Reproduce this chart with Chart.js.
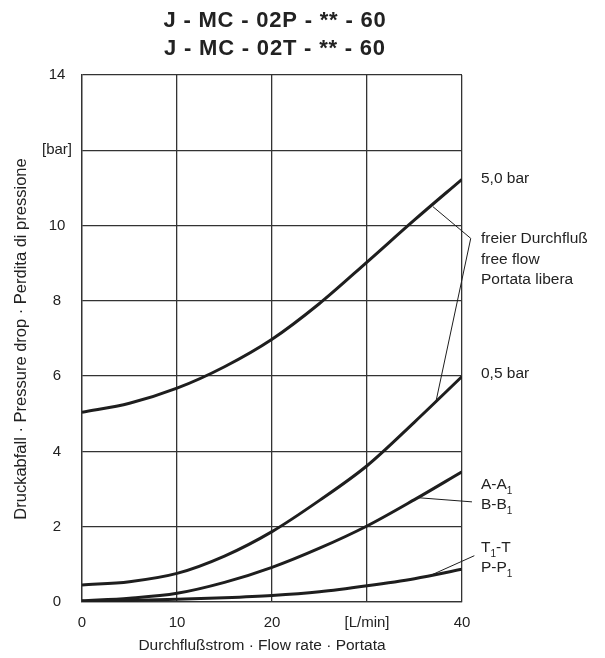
<!DOCTYPE html>
<html>
<head>
<meta charset="utf-8">
<script src="https://cdn.jsdelivr.net/npm/chart.js@4/dist/chart.umd.min.js"></script>
<style>
html,body{margin:0;padding:0;background:#fff;}
canvas{display:block;}
</style>
</head>
<body>
<canvas id="c" width="605" height="658"></canvas>
<script>
// ---- data ----
const flowRate = [0, 5, 10, 15, 20, 25, 30, 35, 40];           // L/min
const free50bar = [5.04, 5.28, 5.68, 6.25, 6.98, 7.93, 9.03, 10.15, 11.23];
const free05bar = [0.45, 0.54, 0.76, 1.22, 1.87, 2.70, 3.62, 4.78, 5.99];
const portAB    = [0.03, 0.10, 0.23, 0.52, 0.92, 1.43, 2.02, 2.72, 3.46];
const portTP    = [0.02, 0.04, 0.07, 0.11, 0.17, 0.27, 0.43, 0.62, 0.87];

const yTickLabels = {12: '[bar]'};
const xTickLabels = {30: '[L/min]'};

// leader lines (label -> curve), data units
const leaderFree50X = [40.92, 36.95];
const leaderFree50Y = [9.66, 10.50];
const leaderFree05X = [40.92, 37.23];
const leaderFree05Y = [9.66, 5.29];
const leaderABX = [41.05, 35.4];
const leaderABY = [2.66, 2.77];
const leaderTPX = [41.3, 36.8];
const leaderTPY = [1.23, 0.72];

const titleLines = ['J - MC - 02P - ** - 60', 'J - MC - 02T - ** - 60'];
const xTitle = 'Durchflußstrom · Flow rate · Portata';
const yTitle = 'Druckabfall · Pressure drop · Perdita di pressione';

const FONT = "'Liberation Sans', Arial, Helvetica, sans-serif";
const INK = '#1e1e1e';
const GRID = '#333333';

const pts = (xs, ys) => xs.map((x, i) => ({x, y: ys[i]}));

const curve = (label, ys) => ({
  label, data: pts(flowRate, ys),
  borderColor: INK, borderWidth: 3, pointRadius: 0,
  cubicInterpolationMode: 'monotone', fill: false
});
const leader = (label, xs, ys) => ({
  label, data: pts(xs, ys),
  borderColor: INK, borderWidth: 1, pointRadius: 0,
  tension: 0, fill: false, clip: false
});

// right-hand labels
const sideLabels = [
  {y: 179, parts: [['5,0 bar', false]]},
  {y: 239, parts: [['freier Durchfluß', false]]},
  {y: 260, parts: [['free flow', false]]},
  {y: 280, parts: [['Portata libera', false]]},
  {y: 374, parts: [['0,5 bar', false]]},
  {y: 485, parts: [['A-A', false], ['1', true]]},
  {y: 505, parts: [['B-B', false], ['1', true]]},
  {y: 548, parts: [['T', false], ['1', true], ['-T', false]]},
  {y: 568, parts: [['P-P', false], ['1', true]]}
];

const textPlugin = {
  id: 'texts',
  afterDraw(chart) {
    const ctx = chart.ctx;
    const ca = chart.chartArea;
    ctx.save();
    ctx.fillStyle = '#222';
    // title
    ctx.font = "bold 22px " + FONT;
    ctx.textAlign = 'center';
    ctx.textBaseline = 'middle';
    if ('letterSpacing' in ctx) ctx.letterSpacing = '0.8px';
    ctx.fillText(titleLines[0], 275, 21);
    ctx.fillText(titleLines[1], 275, 49);
    if ('letterSpacing' in ctx) ctx.letterSpacing = '0px';
    // x title
    ctx.font = "15.5px " + FONT;
    ctx.fillText(xTitle, 262, 646);
    // y title
    ctx.save();
    ctx.translate(21, 339);
    ctx.rotate(-Math.PI / 2);
    ctx.font = "16.5px " + FONT;
    ctx.fillText(yTitle, 0, 0);
    ctx.restore();
    // side labels
    ctx.textAlign = 'left';
    const x0 = ca.right + 19;
    sideLabels.forEach(l => {
      let x = x0;
      l.parts.forEach(([t, sub]) => {
        if (sub) {
          ctx.font = "10px " + FONT;
          ctx.fillText(t, x, l.y + 6);
        } else {
          ctx.font = "15.5px " + FONT;
          ctx.fillText(t, x, l.y);
        }
        x += ctx.measureText(t).width;
      });
    });
    ctx.restore();
  }
};

new Chart(document.getElementById('c'), {
  type: 'line',
  data: {
    datasets: [
      curve('5,0 bar', free50bar),
      curve('0,5 bar', free05bar),
      curve('A-A1 / B-B1', portAB),
      curve('T1-T / P-P1', portTP),
      leader('leader 5,0', leaderFree50X, leaderFree50Y),
      leader('leader 0,5', leaderFree05X, leaderFree05Y),
      leader('leader AB', leaderABX, leaderABY),
      leader('leader TP', leaderTPX, leaderTPY)
    ]
  },
  options: {
    responsive: false,
    devicePixelRatio: 1,
    animation: false,
    layout: {padding: {top: 75, right: 143, left: 0, bottom: 0}},
    plugins: {legend: {display: false}, tooltip: {enabled: false}, title: {display: false}},
    scales: {
      x: {
        type: 'linear', min: 0, max: 40,
        afterFit: s => { s.height = 56; },
        ticks: {
          stepSize: 10, padding: 12, color: '#222',
          font: {family: FONT, size: 15},
          callback: v => (xTickLabels[v] !== undefined ? xTickLabels[v] : v)
        },
        grid: {color: GRID, lineWidth: 1.3, drawTicks: false},
        border: {color: GRID, width: 1.3}
      },
      y: {
        type: 'linear', min: 0, max: 14,
        afterFit: s => { s.width = 82; },
        ticks: {
          stepSize: 2, padding: 10, crossAlign: 'center', color: '#222',
          font: {family: FONT, size: 15},
          callback: v => (yTickLabels[v] !== undefined ? yTickLabels[v] : v)
        },
        grid: {color: GRID, lineWidth: 1.3, drawTicks: false},
        border: {color: GRID, width: 1.3}
      }
    }
  },
  plugins: [textPlugin]
});
</script>
</body>
</html>
